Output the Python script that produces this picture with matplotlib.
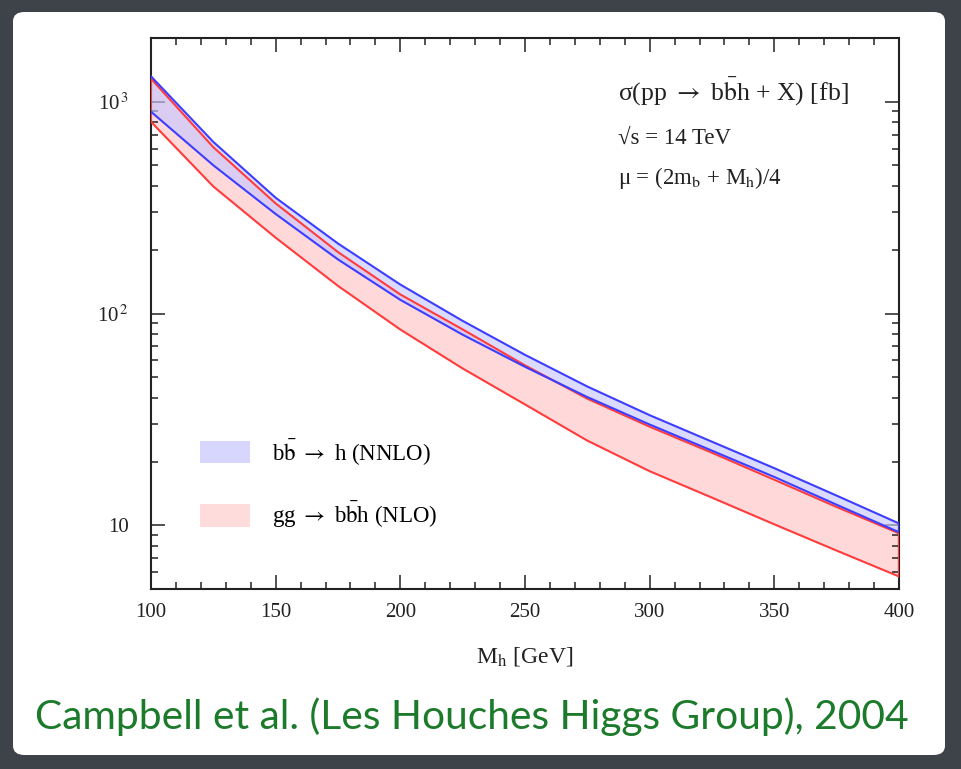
import numpy as np
import matplotlib.pyplot as plt
from matplotlib.patches import FancyBboxPatch, Patch

plt.rcParams['font.family'] = ['Liberation Serif', 'DejaVu Serif']
plt.rcParams['mathtext.fontset'] = 'stix'

# Higgs mass (GeV)
mh = [100, 125, 150, 175, 200, 225, 250, 275, 300, 325, 350, 375, 400]

# bb -> h (NNLO) band, fb
bbh_hi = [1318, 646, 352, 214, 137, 92.3, 63.8, 45.2, 33.1, 24.8, 18.6, 13.8, 10.2]
bbh_lo = [897, 501, 295, 180, 116, 79.4, 56.0, 40.3, 29.9, 22.5, 16.9, 12.5, 9.27]

# gg -> bbh (NLO) band, fb
gg_hi = [1285, 610, 331, 195, 123, 84.1, 56.9, 39.6, 29.2, 22.0, 16.4, 12.2, 9.16]
gg_lo = [804, 398, 228, 135, 84.0, 55.0, 37.2, 25.1, 18.0, 13.5, 10.1, 7.59, 5.73]

W, H = 962, 769
fig = plt.figure(figsize=(W / 100, H / 100), dpi=100)
fig.patch.set_facecolor('#3e4249')

# white slide panel (behind the axes)
panel = FancyBboxPatch((13 / W, 1 - 755 / H), (945 - 13) / W, (755 - 12) / H,
                       boxstyle='round,pad=0,rounding_size=0.012',
                       transform=fig.transFigure, facecolor='white',
                       edgecolor='none', zorder=-5)
fig.add_artist(panel)

ax = fig.add_axes([151 / W, 1 - 589 / H, (899 - 151) / W, (589 - 38) / H])
ax.set_zorder(1)
ax.set_facecolor('white')

red_fill = '#ffd9d9'
blue_fill = '#c8c8ff'
red_line = '#ff3b3b'
blue_line = '#3d3dff'
ink = '#222222'

ax.fill_between(mh, gg_lo, gg_hi, color=red_fill, lw=0, zorder=1)
ax.fill_between(mh, bbh_lo, bbh_hi, color=blue_fill, alpha=0.65, lw=0, zorder=2)
for y in (gg_lo, gg_hi):
    ax.plot(mh, y, color=red_line, lw=1.5, zorder=3)
for y in (bbh_lo, bbh_hi):
    ax.plot(mh, y, color=blue_line, lw=1.5, zorder=4)
# band end caps
ax.plot([400, 400], [gg_lo[-1], gg_hi[-1]], color=red_line, lw=1.6, zorder=3)
ax.plot([400, 400], [bbh_lo[-1], bbh_hi[-1]], color=blue_line, lw=1.6, zorder=4)
ax.plot([100, 100], [gg_lo[0], gg_hi[0]], color=red_line, lw=1.4, zorder=3)

ax.set_yscale('log')
ax.set_xlim(100, 400)
ax.set_ylim(5, 2000)
ax.set_xticks(np.arange(100, 401, 50))
ax.set_xticks(np.arange(100, 401, 10), minor=True)
ax.set_yticks([10, 100, 1000])
ax.set_yticklabels(['10', r'10$^{\,2}$', r'10$^{\,3}$'])
ax.tick_params(which='both', direction='in', top=True, right=True,
               width=1.1, colors=ink, labelsize=15)
ax.tick_params(which='major', length=10, pad=10)
ax.tick_params(which='minor', length=5)
ax.tick_params(axis='y', which='major', pad=16)
for s in ax.spines.values():
    s.set_linewidth(1.5)
    s.set_color(ink)

fig.text(525 / W, 1 - 657 / H, r'M$_{\rm h}$ [GeV]', ha='center', va='center',
         fontsize=17, color=ink)

ax.text(0.624, 1 - (92 - 38) / 551,
        r'σ(pp $\rightarrow$ b$\bar{\rm b}$h + X) [fb]',
        transform=ax.transAxes, fontsize=18.5, va='center', color=ink)
ax.text(0.624, 1 - (138 - 38) / 551, '√s = 14 TeV', transform=ax.transAxes,
        fontsize=16.5, va='center', color=ink)
ax.text(0.624, 1 - (178 - 38) / 551, r'μ = (2m$_{\rm b}$ + M$_{\rm h}$)/4',
        transform=ax.transAxes, fontsize=16.5, va='center', color=ink)

handles = [Patch(facecolor='#d6d6ff', edgecolor='none'),
           Patch(facecolor='#ffdcdc', edgecolor='none')]
labels = [r'b$\bar{\rm b}$ $\rightarrow$ h (NNLO)',
          r'gg $\rightarrow$ b$\bar{\rm b}$h (NLO)']
ax.legend(handles, labels, loc='upper left', bbox_to_anchor=(0.0655, 0.276),
          frameon=False, fontsize=16.5, handlelength=2.18, handleheight=1.14,
          handletextpad=0.96, labelspacing=1.45, borderpad=0, borderaxespad=0)

fig.text(472 / W, 1 - 717 / H, 'Campbell et al. (Les Houches Higgs Group), 2004',
         ha='center', va='center', fontsize=29.3, color='#1c7a2b', family='Lato')

fig.savefig('out.png', dpi=100, facecolor=fig.get_facecolor())
